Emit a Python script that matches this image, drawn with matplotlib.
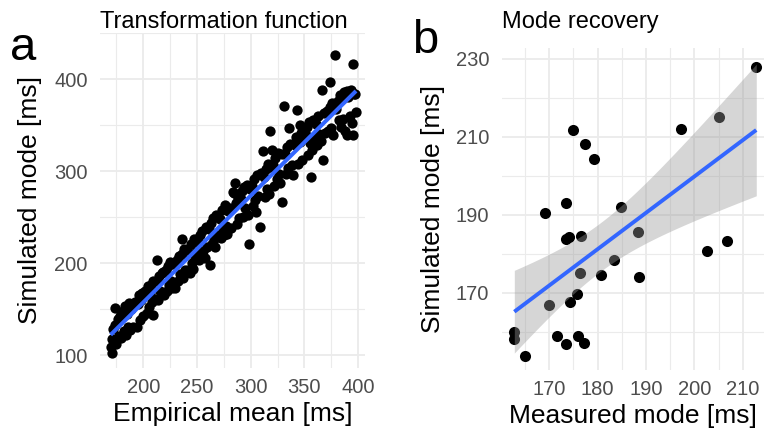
import numpy as np
import matplotlib
matplotlib.use("Agg")
import matplotlib.pyplot as plt

plt.rcParams["font.family"] = ["Liberation Sans", "DejaVu Sans"]

# panel a: empirical mean vs simulated mode
emp_mean = [
    169.6, 170.5, 171, 172, 173.6, 174, 175, 176, 177, 178, 179,
    181, 182, 183, 184, 185, 186, 187, 188, 189,
    190.7, 192, 193.8, 195, 196, 197, 198, 199, 200,
    201, 202, 203, 204, 205, 206, 207, 208, 209.3, 209,
    211, 212.4, 213, 214, 215, 216, 217, 218.6, 219,
    221, 222, 223, 224, 225, 226, 227, 228, 229.5,
    231, 232, 233, 234, 235.7, 236, 237, 238, 239,
    241, 242, 243.5, 244, 245, 246, 247, 248, 249,
    251, 252, 253, 254, 255, 256, 257, 258, 259,
    261, 262.1, 263, 264, 265, 266, 267, 268, 269,
    271, 272, 273, 274, 275, 276, 277, 278, 279,
    281, 282, 283.8, 285.3, 286, 287, 288, 289, 284,
    291, 292, 293, 294, 295, 296.2, 297, 298.4, 299,
    301, 302, 303, 304, 305, 306, 307, 308.6, 309.6,
    311.7, 312, 313, 314, 315, 316, 317, 318, 319, 320,
    321, 322, 323, 324, 325, 326, 327, 328.8, 329,
    331.3, 332, 333, 334, 335, 336, 337, 338, 339,
    341, 342, 343.4, 344, 345.9, 346, 347, 348, 349,
    351, 352, 353, 354, 355, 356.1, 357, 358, 359,
    361, 362, 363, 364, 365, 366, 367.6, 368, 369,
    371, 372, 373.8, 374, 375, 376, 377, 378.5, 379,
    381, 382, 383, 384, 385, 386, 387, 388, 389.3, 389.3,
    391, 392, 393, 394, 395.5, 395.5, 396, 397, 398,
]
sim_mode_a = [
    109, 102.5, 117, 128, 150.8, 133, 112, 139, 121, 143, 119,
    148, 126, 153, 122, 145, 131, 157, 127, 150,
    131, 158, 130.9, 155, 165, 138, 160, 168, 143,
    165, 170, 146, 175, 152, 168, 176, 158, 143.6, 180,
    161, 203.4, 180, 160, 186, 170, 189, 190.7, 165,
    192, 170, 197, 176, 201, 180, 173, 199, 172.6,
    203, 181, 208, 188, 226, 210, 184, 215, 192,
    214, 193, 188.9, 221, 200, 194, 226, 204, 212,
    223, 203, 231, 208, 235, 213, 206, 239, 218,
    237, 198, 244, 221, 249, 226, 218, 252, 230,
    248, 227, 258, 237, 230, 263, 240, 232, 257,
    260, 238, 277.1, 287, 265, 242, 271, 249, 276,
    270, 278, 250, 283, 260, 285.1, 252, 220.9, 280,
    284, 262, 291, 268, 255, 296, 273, 239.7, 297.8,
    321.4, 293, 272, 302, 281, 308, 275, 343.2, 304, 322.5,
    307, 284, 314, 291, 320, 297, 287, 265.9, 318,
    371.1, 319, 297, 326, 303, 346.8, 329, 307, 296,
    328, 337, 366, 308, 350.5, 332, 341, 312, 346,
    339, 348, 317, 353, 330, 293.5, 323, 356, 335,
    351, 328, 360, 340, 333, 387.8, 312.3, 363, 341,
    365, 344, 396.9, 370, 347, 374, 339, 425.6, 367,
    376, 355, 383, 348, 378, 357, 386, 344, 386.8, 339.6,
    381, 360, 388, 352, 415.8, 339.6, 384, 383.8, 364,
]

# panel b: measured mode vs simulated mode
meas_mode = [162.8, 162.8, 165.1, 169.2, 170.0, 171.6, 173.5, 173.5, 173.5, 174.2,
             174.3, 174.9, 175.7, 175.9, 176.3, 176.5, 177.1, 177.4, 179.2, 180.7,
             183.4, 184.8, 188.4, 188.6, 197.3, 202.6, 205.2, 206.8, 212.8]
sim_mode_b = [160.0, 158.1, 153.7, 190.4, 166.8, 159.0, 156.8, 193.0, 183.8, 184.2,
              167.7, 211.8, 169.8, 159.0, 175.1, 184.6, 157.2, 208.2, 204.3, 174.5,
              178.4, 191.9, 185.7, 174.1, 212.0, 180.7, 215.2, 183.4, 228.0]

GRID = "#EBEBEB"
TICK = "#4D4D4D"
BLUE = "#3366FF"


def style_axes(ax, xmajor, xminor, ymajor, yminor):
    ax.set_xticks(xmajor)
    ax.set_xticks(xminor, minor=True)
    ax.set_yticks(ymajor)
    ax.set_yticks(yminor, minor=True)
    ax.grid(True, which="major", color=GRID, linewidth=1.3)
    ax.grid(True, which="minor", color=GRID, linewidth=0.8)
    ax.set_axisbelow(True)
    for s in ax.spines.values():
        s.set_visible(False)
    ax.tick_params(which="both", length=0, labelsize=14.5, labelcolor=TICK)
    ax.tick_params(axis="x", pad=7)
    ax.tick_params(axis="y", pad=9)


fig = plt.figure(figsize=(7.64, 4.36), dpi=100)

# ---- panel a
ax1 = fig.add_axes([0.1309, 0.1560, 0.3469, 0.7683])
ax1.scatter(emp_mean, sim_mode_a, s=55, color="black", linewidths=0, zorder=2)
xa = np.array(emp_mean)
ya = np.array(sim_mode_a)
ka, ba = np.polyfit(xa, ya, 1)
lx = np.array([xa.min(), xa.max()])
ax1.plot(lx, ka * lx + ba, color=BLUE, linewidth=2.9, zorder=3, solid_capstyle="butt")
ax1.set_xlim(159.7, 406.4)
ax1.set_ylim(86, 450)
style_axes(ax1, [200, 250, 300, 350, 400], [175, 225, 275, 325, 375],
           [100, 200, 300, 400], [150, 250, 350, 450])
ax1.set_xlabel("Empirical mean [ms]", fontsize=19, labelpad=4)
ax1.set_ylabel("Simulated mode [ms]", fontsize=19, labelpad=9)

# ---- panel b
ax2 = fig.add_axes([0.6567, 0.1514, 0.3433, 0.7385])
ax2.scatter(meas_mode, sim_mode_b, s=64, color="black", linewidths=0, zorder=2)
xb = np.array(meas_mode)
yb = np.array(sim_mode_b)
kb, bb = np.polyfit(xb, yb, 1)
gx = np.linspace(xb.min(), xb.max(), 80)
gy = kb * gx + bb
n = len(xb)
resid = yb - (kb * xb + bb)
s_err = np.sqrt(np.sum(resid ** 2) / (n - 2))
t_crit = 2.052  # t quantile, 0.975, df = 27
se_fit = s_err * np.sqrt(1 / n + (gx - xb.mean()) ** 2 / np.sum((xb - xb.mean()) ** 2))
ax2.fill_between(gx, gy - t_crit * se_fit, gy + t_crit * se_fit,
                 color="#999999", alpha=0.4, linewidth=0, zorder=3)
ax2.plot(gx, gy, color=BLUE, linewidth=2.8, zorder=4, solid_capstyle="butt")
ax2.set_xlim(160.2, 214.4)
ax2.set_ylim(150.2, 232.8)
style_axes(ax2, [170, 180, 190, 200, 210], [165, 175, 185, 195, 205],
           [170, 190, 210, 230], [160, 180, 200, 220])
ax2.set_xlabel("Measured mode [ms]", fontsize=19, labelpad=4)
ax2.set_ylabel("Simulated mode [ms]", fontsize=19, labelpad=8)

# titles and panel letters
fig.text(100 / 764, 1 - 22 / 436, "Transformation function", fontsize=17,
         ha="left", va="center")
fig.text(502 / 764, 1 - 22 / 436, "Mode recovery", fontsize=17,
         ha="left", va="center")
fig.text(10 / 764, 1 - 60 / 436, "a", fontsize=34, ha="left", va="baseline")
fig.text(412 / 764, 1 - 53 / 436, "b", fontsize=34, ha="left", va="baseline")

fig.savefig("out.png", dpi=100)
